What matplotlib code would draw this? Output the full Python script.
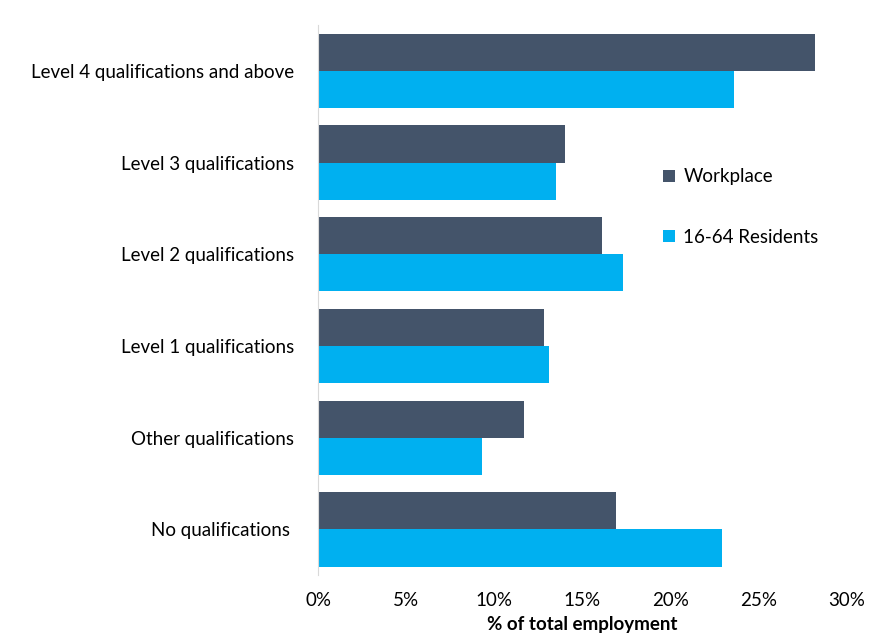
import numpy as np
import matplotlib.pyplot as plt

# Qualification levels (top to bottom as shown)
categories = ['Level 4 qualifications and above', 'Level 3 qualifications',
              'Level 2 qualifications', 'Level 1 qualifications',
              'Other qualifications', 'No qualifications ']
workplace = [28.2, 14.0, 16.1, 12.8, 11.7, 16.9]
residents = [23.6, 13.5, 17.3, 13.1, 9.3, 22.9]
xticks = [0, 5, 10, 15, 20, 25, 30]

plt.rcParams['font.family'] = ['Lato', 'DejaVu Sans']
fs = 13.5

fig = plt.figure(figsize=(8.81, 6.42), dpi=100)
ax = fig.add_axes([0.361, 0.104, 0.6, 0.857])

y = np.arange(len(categories))
h = 0.405
ax.barh(y - h / 2, workplace, height=h, color='#44546A', label='Workplace')
ax.barh(y + h / 2, residents, height=h, color='#00B0F0', label='16-64 Residents')

ax.set_ylim(len(categories) - 0.5, -0.5)
ax.set_xlim(0, 30)
ax.set_yticks(y)
ax.set_yticklabels(categories, fontsize=fs)
ax.set_xticks(xticks)
ax.set_xticklabels([f'{t}%' for t in xticks], fontsize=fs)
ax.tick_params(axis='y', length=0, pad=17)
ax.tick_params(axis='x', length=0, pad=12)
ax.set_xlabel('% of total employment', fontsize=fs, fontweight='bold', labelpad=5)

for s in ['top', 'right', 'bottom']:
    ax.spines[s].set_visible(False)
ax.spines['left'].set_color('#D9D9D9')

ax.legend(loc='upper left', bbox_to_anchor=(0.62, 0.77), frameon=False,
          fontsize=fs, handlelength=0.65, handleheight=0.65,
          labelspacing=2.3, handletextpad=0.45)

plt.savefig('out.png', dpi=100)
